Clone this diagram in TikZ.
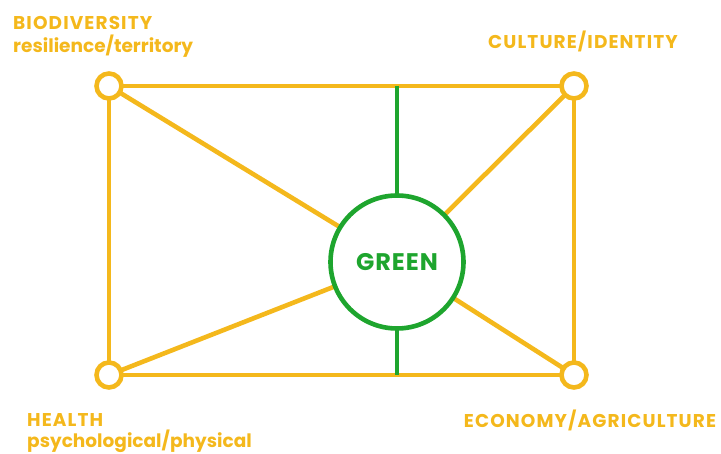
\documentclass[tikz,border=0pt]{standalone}
\usepackage{fontspec}
\setmainfont{Poppins}
\definecolor{gold}{HTML}{F4B81C}
\definecolor{grn}{HTML}{1EA52E}
\begin{document}
\begin{tikzpicture}[x=1pt,y=-1pt,
  edge/.style={draw=gold,line width=4.6pt},
  corner/.style={circle,draw=gold,line width=4.6pt,fill=white,minimum size=25pt,inner sep=0pt},
  hub/.style={circle,draw=grn,line width=4.6pt,fill=white,minimum size=133pt,inner sep=0pt,text=grn,font=\fontsize{24}{26}\selectfont\bfseries\addfontfeature{LetterSpace=4}},
  lab/.style={text=gold,font=\fontsize{18.5}{22}\selectfont\bfseries,inner sep=0pt},
  caps/.style={lab,font=\fontsize{18.5}{22}\selectfont\bfseries\addfontfeature{LetterSpace=6}}]
\useasboundingbox (0,0) rectangle (721,454);
\coordinate (tl) at (109,86);
\coordinate (tr) at (574,86);
\coordinate (bl) at (109,375);
\coordinate (br) at (574,375);
\coordinate (c) at (397,262);
\coordinate (tm) at (397,86);
\coordinate (bm) at (397,375);
\draw[edge] (tl) -- (tr) -- (br) -- (bl) -- cycle;
\draw[edge] (tl) -- (c) (tr) -- (c) (bl) -- (c) (br) -- (c);
\draw[draw=grn,line width=4.6pt] (tm) -- (bm);
\node[hub] (g) at (c) {GREEN};
\node[corner] (ntl) at (tl) {};
\node[corner] (ntr) at (tr) {};
\node[corner] (nbl) at (bl) {};
\node[corner] (nbr) at (br) {};
\node[caps,anchor=base west] (bio) at (13,30) {BIODIVERSITY};
\node[lab,anchor=base west] (bio2) at (13,53) {resilience/territory};
\node[caps,anchor=base] (cul) at (583,49) {CULTURE/IDENTITY};
\node[caps,anchor=base west] (hea) at (27,427) {HEALTH};
\node[lab,anchor=base west] (hea2) at (27,448) {psychological/physical};
\node[caps,anchor=base] (eco) at (590,428) {ECONOMY/AGRICULTURE};
\end{tikzpicture}
\end{document}
